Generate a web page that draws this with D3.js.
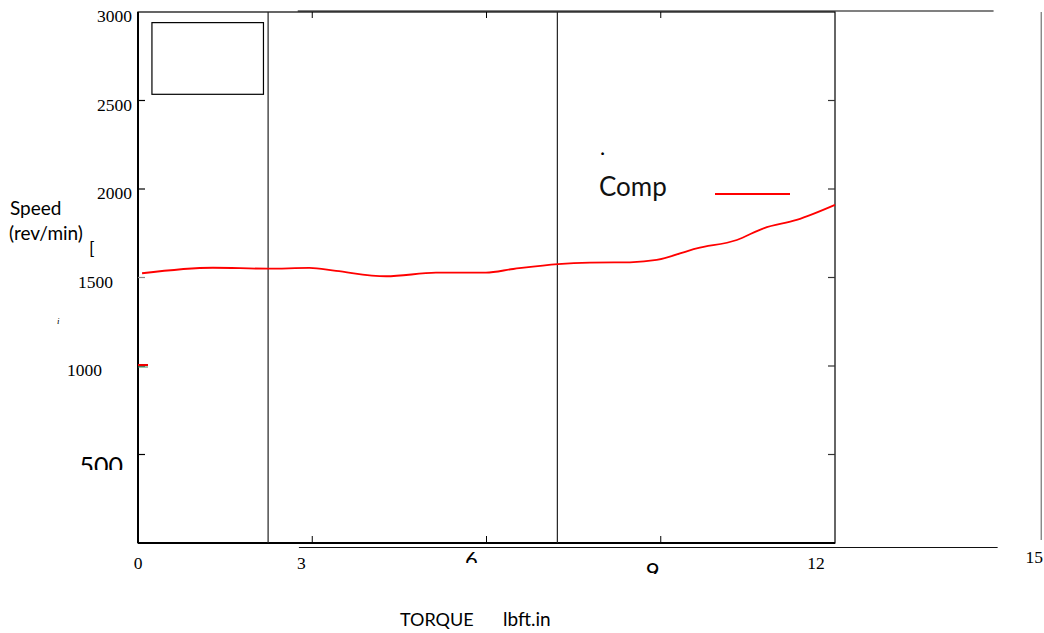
<!DOCTYPE html>
<html>
<head>
<meta charset="utf-8">
<script src="https://cdn.jsdelivr.net/npm/d3@7"></script>
<style>
body{margin:0;background:#fff;}
svg{display:block;}
</style>
</head>
<body>
<svg id="chart"></svg>
<script>
// torque (lbft.in) vs speed (rev/min)
var torque=[0.07,1.29,2.23,2.95,3.41,4.27,5.13,5.99,6.46,7.23,7.78,8.47,8.93,9.62,10.31,10.77,11.34,12];
var speed=[1524,1555,1550,1554,1537,1507,1527,1528,1548,1576,1584,1586,1599,1665,1712,1778,1825,1910];
var yTicks=[500,1000,1500,2000,2500,3000];
var xTicks=[0,3,6,9,12,15];
var markerTorque=[2.24,7.22];
var seriesName="Comp";

var w=1044;
var h=633;
var xScale=d3.scaleLinear()
             .domain([0,12])
             .range([138,835]);
var yScale=d3.scaleLinear()
             .domain([0,3000])
             .range([543,12]);

var svg=d3.select("#chart")
          .attr("width",w)
          .attr("height",h);
var defs=svg.append("defs");

//////////////////////////////////////////////
// ghost frame lines behind the plot
svg.append("line")
   .attr("x1",xScale(2.75)).attr("x2",xScale(14.73))
   .attr("y1",yScale(3000)-1).attr("y2",yScale(3000)-1)
   .attr("stroke","#808080").attr("stroke-width",2);
svg.append("line")
   .attr("x1",xScale(2.77)).attr("x2",xScale(14.8))
   .attr("y1",yScale(0)+4.5).attr("y2",yScale(0)+4.5)
   .attr("stroke","#111").attr("stroke-width",1.2);
svg.append("line")
   .attr("x1",xScale(15.55)).attr("x2",xScale(15.55))
   .attr("y1",yScale(3000)).attr("y2",yScale(17))
   .attr("stroke","#555").attr("stroke-width",1);

//////////////////////////////////////////////
// plot frame
svg.append("rect")
   .attr("x",xScale(0)).attr("y",yScale(3000))
   .attr("width",xScale(12)-xScale(0))
   .attr("height",yScale(0)-yScale(3000))
   .attr("fill","none").attr("stroke","#000").attr("stroke-width",1.2);
svg.append("line")
   .attr("x1",xScale(0)).attr("x2",xScale(0))
   .attr("y1",yScale(3000)).attr("y2",yScale(0))
   .attr("stroke","#000").attr("stroke-width",2);
svg.append("line")
   .attr("x1",xScale(0)).attr("x2",xScale(12))
   .attr("y1",yScale(0)).attr("y2",yScale(0))
   .attr("stroke","#000").attr("stroke-width",1.8);

// marker lines
svg.selectAll(".marker")
   .data(markerTorque)
   .enter()
   .append("line")
   .attr("class","marker")
   .attr("x1",function(d){return xScale(d);})
   .attr("x2",function(d){return xScale(d);})
   .attr("y1",yScale(3000)).attr("y2",yScale(0))
   .attr("stroke","#222").attr("stroke-width",1.2);

// small empty box top left
svg.append("rect")
   .attr("x",xScale(0.24)).attr("y",yScale(2940))
   .attr("width",xScale(2.16)-xScale(0.24))
   .attr("height",yScale(2535)-yScale(2940))
   .attr("fill","none").attr("stroke","#000").attr("stroke-width",1.2);

// inward ticks
var inner=yTicks.filter(function(d){return d<3000;});
svg.selectAll(".ltick")
   .data(inner)
   .enter()
   .append("line")
   .attr("x1",xScale(0)).attr("x2",xScale(0)+7)
   .attr("y1",function(d){return yScale(d);})
   .attr("y2",function(d){return yScale(d);})
   .attr("stroke",function(d){return d==1500?"#888":"#000";})
   .attr("stroke-width",1.2);
svg.selectAll(".rtick")
   .data(inner)
   .enter()
   .append("line")
   .attr("x1",xScale(12)-7).attr("x2",xScale(12))
   .attr("y1",function(d){return yScale(d);})
   .attr("y2",function(d){return yScale(d);})
   .attr("stroke","#333").attr("stroke-width",1.2);
var midX=xTicks.filter(function(d){return d>0 && d<12;});
svg.selectAll(".btick")
   .data(midX)
   .enter()
   .append("line")
   .attr("x1",function(d){return xScale(d);})
   .attr("x2",function(d){return xScale(d);})
   .attr("y1",yScale(0)-7).attr("y2",yScale(0))
   .attr("stroke","#000").attr("stroke-width",1);
svg.selectAll(".ttick")
   .data(midX)
   .enter()
   .append("line")
   .attr("x1",function(d){return xScale(d);})
   .attr("x2",function(d){return xScale(d);})
   .attr("y1",yScale(3000)).attr("y2",yScale(3000)+6)
   .attr("stroke","#000").attr("stroke-width",1);

// coloured stub at 1000
svg.append("line")
   .attr("x1",xScale(0)).attr("x2",xScale(0)+10)
   .attr("y1",yScale(1000)-1).attr("y2",yScale(1000)-1)
   .attr("stroke","#e00").attr("stroke-width",2);
svg.append("line")
   .attr("x1",xScale(0)).attr("x2",xScale(0)+10)
   .attr("y1",yScale(1000)+1).attr("y2",yScale(1000)+1)
   .attr("stroke","#3a8a5a").attr("stroke-width",1);

//////////////////////////////////////////////
// the curve
var pts=torque.map(function(t,i){return [t,speed[i]];});
var line=d3.line()
           .x(function(d){return xScale(d[0]);})
           .y(function(d){return yScale(d[1]);})
           .curve(d3.curveMonotoneX);
svg.append("path")
   .datum(pts)
   .attr("d",line)
   .attr("fill","none")
   .attr("stroke","#ff0000")
   .attr("stroke-width",1.8);

// legend
svg.append("text")
   .attr("x",600).attr("y",155)
   .attr("font-family","Lato").attr("font-size",22)
   .text(".");
svg.append("text")
   .attr("x",599).attr("y",196)
   .attr("font-family","Lato").attr("font-size",26)
   .attr("fill","#111")
   .text(seriesName);
svg.append("line")
   .attr("x1",715).attr("x2",790)
   .attr("y1",194).attr("y2",194)
   .attr("stroke","#ff0000").attr("stroke-width",1.8);

//////////////////////////////////////////////
// y tick labels (each one sits a bit differently)
var yLabelEnd={3000:132,2500:132,2000:132,1500:113,1000:102};
svg.selectAll(".ylab")
   .data(yTicks.filter(function(d){return d!=500;}))
   .enter()
   .append("text")
   .attr("x",function(d){return yLabelEnd[d];})
   .attr("y",function(d){return yScale(d)+10;})
   .attr("text-anchor","end")
   .attr("font-family","Liberation Serif").attr("font-size",17.5)
   .text(function(d){return d;});

// x tick labels
var xLabelDx={0:0,3:-11,12:-19};
svg.selectAll(".xlab")
   .data(xTicks.filter(function(d){return d in xLabelDx;}))
   .enter()
   .append("text")
   .attr("x",function(d){return xScale(d)+xLabelDx[d];})
   .attr("y",569)
   .attr("text-anchor","middle")
   .attr("font-family","Liberation Serif").attr("font-size",17.5)
   .text(function(d){return d;});
svg.append("text")
   .attr("x",xScale(15.55)-7).attr("y",563)
   .attr("text-anchor","middle")
   .attr("font-family","Liberation Serif").attr("font-size",17.5)
   .text(xTicks[5]);

// clipped big labels
var clipped=[
  {id:"c500",text:yTicks[0],x:123,y:475,size:25,anchor:"end",cut:470},
  {id:"c6",text:xTicks[2],x:xScale(6)-15,y:567,size:22,anchor:"middle",cut:563},
  {id:"c9",text:xTicks[3],x:xScale(9)-8,y:580,size:24,anchor:"middle",cut:574}
];
clipped.forEach(function(c){
  defs.append("clipPath").attr("id",c.id)
      .append("rect").attr("x",0).attr("y",0).attr("width",w).attr("height",c.cut);
  svg.append("text")
     .attr("clip-path","url(#"+c.id+")")
     .attr("x",c.x).attr("y",c.y)
     .attr("text-anchor",c.anchor)
     .attr("font-family","Lato").attr("font-size",c.size)
     .text(c.text);
});

//////////////////////////////////////////////
// axis titles and stray marks
svg.append("text")
   .attr("x",10).attr("y",215)
   .attr("font-family","Lato").attr("font-size",19)
   .text("Speed");
svg.append("text")
   .attr("x",9).attr("y",240)
   .attr("font-family","Lato").attr("font-size",19)
   .text("(rev/min)");
svg.append("text")
   .attr("x",89).attr("y",255)
   .attr("font-family","Lato").attr("font-size",18)
   .text("[");
svg.append("text")
   .attr("x",57).attr("y",324)
   .attr("font-family","Liberation Serif").attr("font-style","italic").attr("font-size",9)
   .text("i");
svg.append("text")
   .attr("x",400).attr("y",626)
   .attr("font-family","Lato").attr("font-size",18)
   .text("TORQUE");
svg.append("text")
   .attr("x",503).attr("y",626)
   .attr("font-family","Lato").attr("font-size",19)
   .text("lbft.in");
</script>
</body>
</html>
